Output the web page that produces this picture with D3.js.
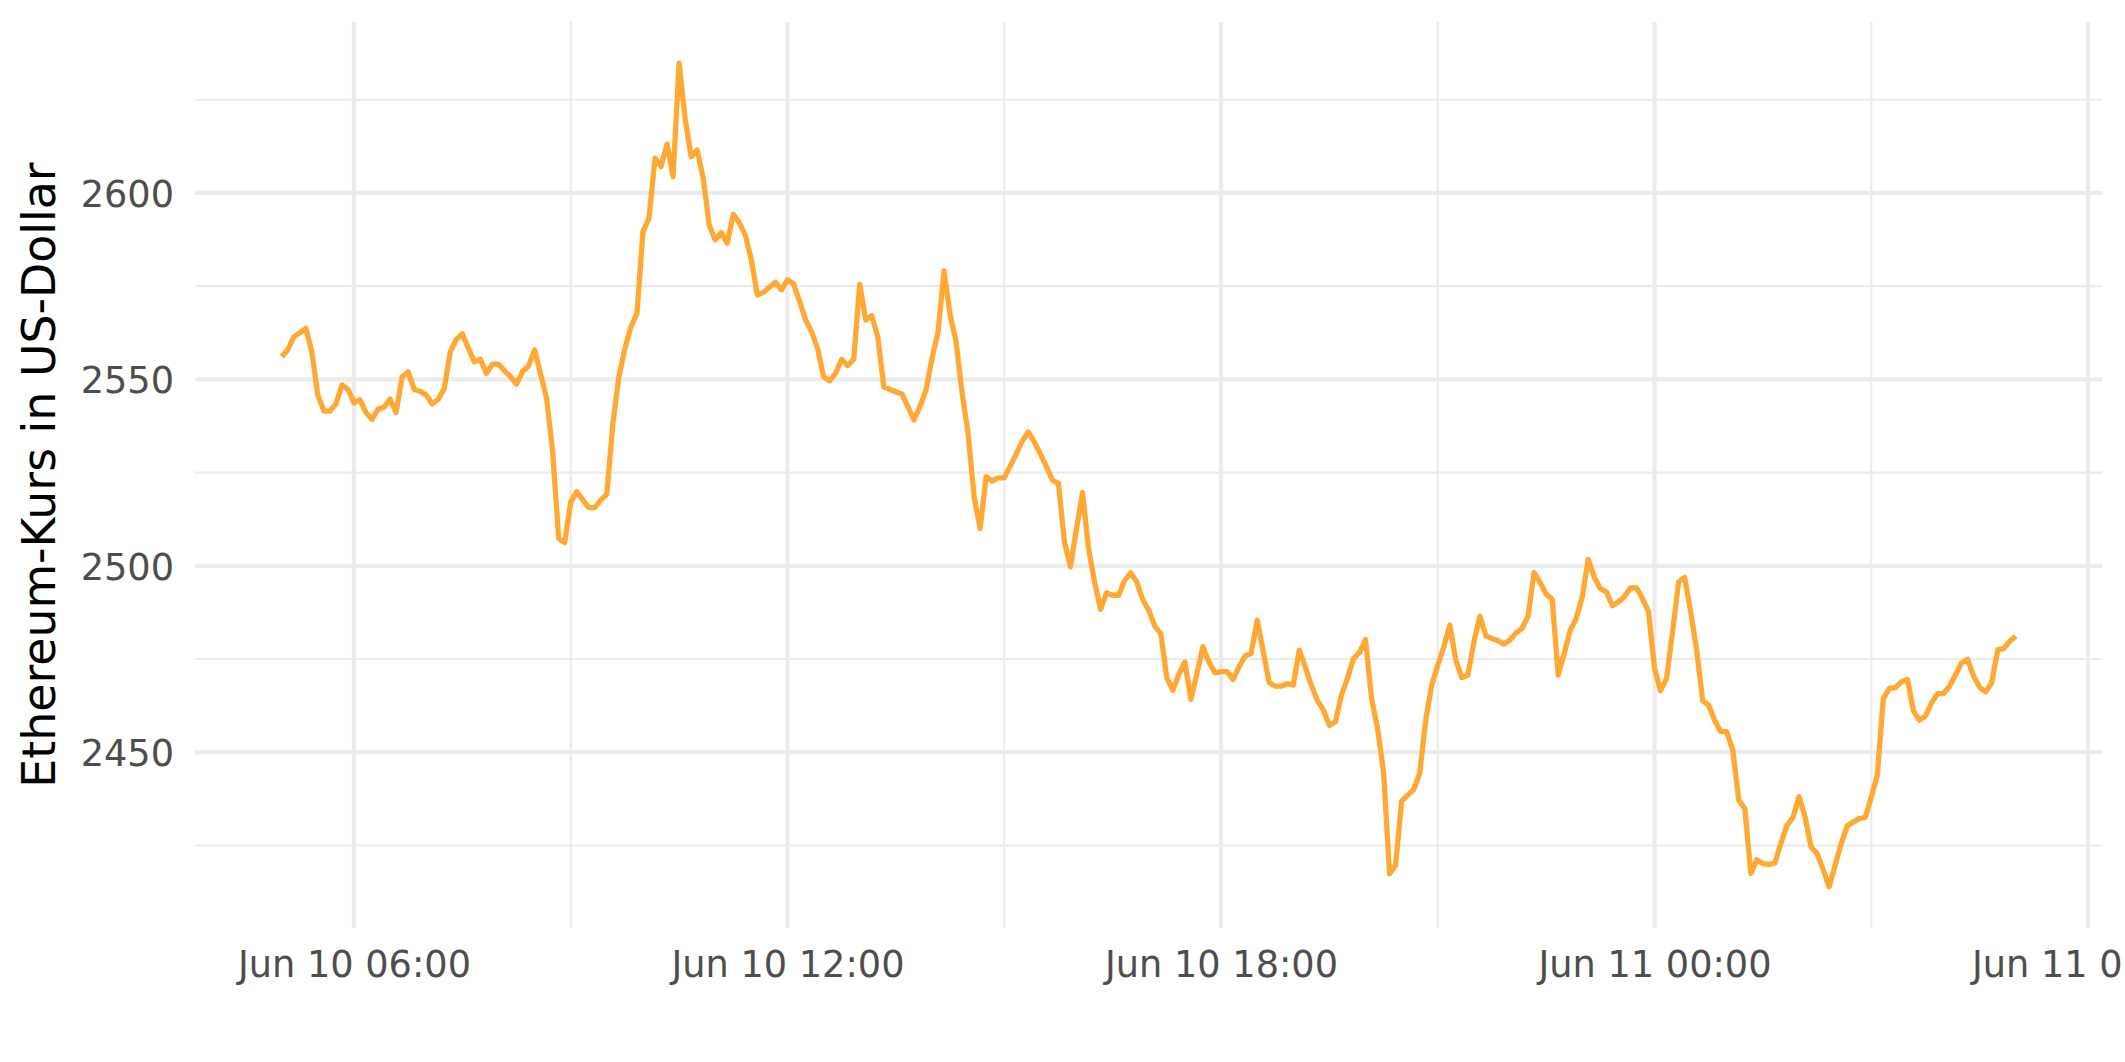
<!DOCTYPE html>
<html>
<head>
<meta charset="utf-8">
<script src="https://cdn.jsdelivr.net/npm/d3@7"></script>
<style>
  html, body { margin: 0; padding: 0; background: #ffffff; overflow: hidden; }
  svg { display: block; }
</style>
</head>
<body>
<div id="chart"></div>
<script>
// ---- data ----
const startTime = [2024, 5, 10, 5, 0];   // Jun 10 05:00 (local)
const intervalMinutes = 5;
const ethPrice = [
  2556.1, 2557.9, 2561.4, 2562.5, 2563.7, 2557.4, 2545.8, 2541.5, 2541.5, 2543.4,
  2548.5, 2547.3, 2543.7, 2544.5, 2541.1, 2539.3, 2542.0, 2542.5, 2544.7, 2541.1,
  2550.7, 2552.0, 2547.3, 2546.8, 2545.8, 2543.4, 2544.6, 2547.6, 2557.4, 2560.7,
  2562.2, 2558.4, 2554.7, 2555.4, 2551.6, 2554.1, 2554.1, 2552.3, 2550.7, 2548.7,
  2552.1, 2553.6, 2557.9, 2551.4, 2544.9, 2530.6, 2507.3, 2506.2, 2517.0, 2519.9,
  2517.7, 2515.6, 2515.6, 2517.6, 2519.2, 2538.2, 2550.7, 2558.3, 2564.1, 2567.7,
  2589.6, 2593.2, 2609.3, 2607.1, 2613.1, 2604.4, 2634.8, 2620.0, 2609.7, 2611.5,
  2603.9, 2591.4, 2587.4, 2589.4, 2586.5, 2594.3, 2592.0, 2588.7, 2582.0, 2572.6,
  2573.3, 2574.7, 2576.0, 2574.0, 2576.7, 2575.6, 2571.0, 2566.0, 2562.8, 2558.3,
  2550.7, 2549.6, 2551.6, 2555.4, 2553.7, 2555.4, 2575.5, 2565.9, 2567.1, 2561.4,
  2548.0, 2547.3, 2546.7, 2546.1, 2542.7, 2539.1, 2542.7, 2547.1, 2555.6, 2562.6,
  2579.1, 2567.4, 2560.1, 2546.3, 2535.5, 2518.5, 2510.0, 2523.9, 2522.7, 2523.6,
  2523.6, 2526.8, 2530.0, 2533.5, 2535.9, 2533.2, 2530.0, 2526.6, 2523.0, 2522.1,
  2506.4, 2499.7, 2510.0, 2519.6, 2504.6, 2495.7, 2488.3, 2492.8, 2492.1, 2492.1,
  2496.1, 2498.1, 2495.7, 2490.9, 2488.1, 2483.8, 2481.8, 2470.0, 2466.6, 2470.9,
  2474.2, 2464.2, 2471.1, 2478.3, 2474.2, 2471.3, 2471.6, 2471.6, 2469.5, 2472.9,
  2475.8, 2476.5, 2485.4, 2477.2, 2468.7, 2467.7, 2467.7, 2468.4, 2468.0, 2477.4,
  2472.9, 2468.0, 2463.9, 2461.3, 2457.2, 2458.1, 2465.3, 2469.8, 2475.1, 2476.7,
  2480.2, 2464.4, 2456.4, 2444.7, 2417.4, 2419.7, 2436.9, 2438.5, 2440.0, 2444.3,
  2458.6, 2468.0, 2473.3, 2478.3, 2484.1, 2474.7, 2470.0, 2470.7, 2479.6, 2486.5,
  2481.2, 2480.5, 2479.9, 2479.0, 2480.1, 2482.0, 2483.2, 2486.5, 2498.2, 2495.5,
  2492.4, 2491.0, 2470.7, 2476.5, 2482.7, 2485.9, 2491.7, 2501.7, 2496.9, 2493.9,
  2493.0, 2489.3, 2490.3, 2491.7, 2494.1, 2494.1, 2491.2, 2487.7, 2472.5, 2466.5,
  2469.8, 2482.3, 2495.7, 2496.9, 2487.7, 2477.4, 2463.8, 2462.6, 2458.5, 2455.5,
  2455.5, 2450.5, 2437.1, 2434.9, 2417.5, 2421.2, 2420.1, 2419.9, 2420.3, 2425.7,
  2430.4, 2432.5, 2438.1, 2432.6, 2424.6, 2422.8, 2418.5, 2413.9, 2419.7, 2425.5,
  2430.2, 2431.3, 2432.2, 2432.5, 2438.0, 2443.8, 2464.4, 2467.1, 2467.3, 2468.9,
  2469.5, 2461.1, 2458.6, 2459.7, 2463.2, 2465.7, 2465.7, 2467.7, 2470.8, 2474.0,
  2474.9, 2470.4, 2467.4, 2466.2, 2468.6, 2477.5, 2477.8, 2479.8, 2481.1
];
const yTicks = [2450, 2500, 2550, 2600];
const yMinorTicks = [2425, 2475, 2525, 2575, 2625];
const yTitle = "Ethereum-Kurs in US-Dollar";

// ---- layout ----
const W = 2125, H = 1062;
const panel = { left: 195, right: 2102.5, top: 22, bottom: 928 };

const t0 = new Date(startTime[0], startTime[1], startTime[2], startTime[3], startTime[4]);
const data = ethPrice.map((v, i) => ({ t: d3.timeMinute.offset(t0, i * intervalMinutes), v }));

// ggplot-style 5% expansion
const tExt = d3.extent(data, d => d.t);
const tPad = (tExt[1] - tExt[0]) * 0.05;
const x = d3.scaleTime()
  .domain([new Date(+tExt[0] - tPad), new Date(+tExt[1] + tPad)])
  .range([panel.left, panel.right]);
const vExt = d3.extent(data, d => d.v);
const vPad = (vExt[1] - vExt[0]) * 0.05;
const y = d3.scaleLinear()
  .domain([vExt[0] - vPad, vExt[1] + vPad])
  .range([panel.bottom, panel.top]);

const svg = d3.select("#chart").append("svg")
  .attr("width", W).attr("height", H)
  .attr("viewBox", `0 0 ${W} ${H}`);

svg.append("rect").attr("width", W).attr("height", H).attr("fill", "#ffffff");

const gridColor = "#EBEBEB";
const xMajor = d3.timeHour.every(6).range(x.domain()[0], x.domain()[1]);
const xMinor = d3.timeHour.every(3).range(x.domain()[0], x.domain()[1])
  .filter(d => d.getHours() % 6 !== 0);

const grid = svg.append("g");
// minor grid
grid.selectAll(".ymin").data(yMinorTicks).join("line")
  .attr("x1", panel.left).attr("x2", panel.right)
  .attr("y1", d => y(d)).attr("y2", d => y(d))
  .attr("stroke", gridColor).attr("stroke-width", 2.1);
grid.selectAll(".xmin").data(xMinor).join("line")
  .attr("y1", panel.top).attr("y2", panel.bottom)
  .attr("x1", d => x(d)).attr("x2", d => x(d))
  .attr("stroke", gridColor).attr("stroke-width", 2.1);
// major grid
grid.selectAll(".ymaj").data(yTicks).join("line")
  .attr("x1", panel.left).attr("x2", panel.right)
  .attr("y1", d => y(d)).attr("y2", d => y(d))
  .attr("stroke", gridColor).attr("stroke-width", 4.2);
grid.selectAll(".xmaj").data(xMajor).join("line")
  .attr("y1", panel.top).attr("y2", panel.bottom)
  .attr("x1", d => x(d)).attr("x2", d => x(d))
  .attr("stroke", gridColor).attr("stroke-width", 4.2);

// line
const line = d3.line().x(d => x(d.t)).y(d => y(d.v));
svg.append("path").datum(data)
  .attr("d", line)
  .attr("fill", "none")
  .attr("stroke", "#FFA833")
  .attr("stroke-width", 5.3)
  .attr("stroke-linejoin", "round");

// axes (ggplot minimal: no axis line, no ticks)
const fmt = d3.timeFormat("%b %d %H:%M");
const xAxis = svg.append("g")
  .attr("transform", `translate(0,${panel.bottom})`)
  .call(d3.axisBottom(x).tickValues(xMajor).tickFormat(fmt).tickSize(0).tickPadding(0));
xAxis.select(".domain").remove();
xAxis.selectAll("text")
  .attr("y", 977 - panel.bottom).attr("dy", null)
  .attr("fill", "#4D4D4D")
  .style("font-family", "'DejaVu Sans', sans-serif")
  .style("font-size", "36.7px");

const yAxis = svg.append("g")
  .attr("transform", `translate(${panel.left},0)`)
  .call(d3.axisLeft(y).tickValues(yTicks).tickFormat(d3.format("d")).tickSize(0).tickPadding(0));
yAxis.select(".domain").remove();
yAxis.selectAll("text")
  .attr("x", -21).attr("dy", "0.36em")
  .attr("fill", "#4D4D4D")
  .style("font-family", "'DejaVu Sans', sans-serif")
  .style("font-size", "36.7px");

// y title
svg.append("text")
  .attr("transform", `translate(55,${(panel.top + panel.bottom) / 2}) rotate(-90)`)
  .attr("text-anchor", "middle")
  .attr("fill", "#000000")
  .style("font-family", "'DejaVu Sans', sans-serif")
  .style("font-size", "45.8px")
  .text(yTitle);
</script>
</body>
</html>
